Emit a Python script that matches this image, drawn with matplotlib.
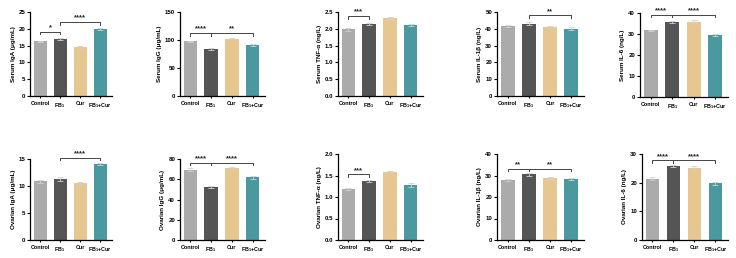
import numpy as np
import matplotlib.pyplot as plt

plt.rcParams['font.family'] = ['Liberation Sans', 'DejaVu Sans']
plt.rcParams['font.weight'] = 'bold'
plt.rcParams['mathtext.fontset'] = 'custom'
plt.rcParams['mathtext.rm'] = 'Liberation Sans:bold'
plt.rcParams['mathtext.default'] = 'rm'

groups = ['Control', 'FB$_1$', 'Cur', 'FB$_1$+Cur']
colors = ['#ababab', '#555555', '#e6c78f', '#4a98a0']

# values per panel (Control, FB1, Cur, FB1+Cur) and their error bars
serum_iga = [16.3, 17.1, 14.6, 19.8]
serum_iga_err = [0.2, 0.3, 0.2, 0.3]
serum_igg = [97.5, 84.0, 102.5, 91.0]
serum_igg_err = [1.0, 1.5, 1.0, 1.5]
serum_tnf = [1.98, 2.14, 2.32, 2.11]
serum_tnf_err = [0.04, 0.03, 0.02, 0.04]
serum_il1b = [41.5, 43.0, 41.0, 40.0]
serum_il1b_err = [0.5, 0.8, 0.4, 1.0]
serum_il6 = [31.7, 35.6, 35.9, 29.4]
serum_il6_err = [0.4, 0.5, 0.6, 0.4]
ovar_iga = [10.9, 11.3, 10.6, 14.0]
ovar_iga_err = [0.3, 0.3, 0.2, 0.2]
ovar_igg = [69.5, 52.8, 71.5, 62.0]
ovar_igg_err = [1.5, 1.0, 1.0, 1.5]
ovar_tnf = [1.19, 1.37, 1.58, 1.28]
ovar_tnf_err = [0.03, 0.03, 0.02, 0.04]
ovar_il1b = [28.0, 30.6, 28.8, 28.4]
ovar_il1b_err = [0.5, 0.7, 0.4, 0.5]
ovar_il6 = [21.4, 25.8, 25.2, 19.8]
ovar_il6_err = [0.6, 0.3, 0.5, 0.5]

# panel: (values, errors, ylabel, ymax, ystep, tick fmt, brackets, axes box in px)
# brackets: (i, j, height, stars)
panels = [
    (serum_iga, serum_iga_err, 'Serum IgA (μg/mL)', 25, 5, '{:.0f}',
     [(0, 1, 19.1, '*'), (1, 3, 22.0, '****')], (30, 12, 112, 96)),
    (serum_igg, serum_igg_err, 'Serum IgG (μg/mL)', 150, 50, '{:.0f}',
     [(0, 1, 112.5, '****'), (1, 3, 112.5, '**')], (180, 12, 265, 96)),
    (serum_tnf, serum_tnf_err, 'Serum TNF-α (ng/L)', 2.5, 0.5, '{:.1f}',
     [(0, 1, 2.38, '***')], (338, 12, 423, 96)),
    (serum_il1b, serum_il1b_err, 'Serum IL-1β (ng/L)', 50, 10, '{:.0f}',
     [(1, 3, 48.0, '**')], (497, 12, 584, 96)),
    (serum_il6, serum_il6_err, 'Serum IL-6 (ng/L)', 40, 10, '{:.0f}',
     [(0, 1, 39.2, '****'), (1, 3, 39.2, '****')], (640, 13, 728, 97)),
    (ovar_iga, ovar_iga_err, 'Ovarian IgA (μg/mL)', 15, 5, '{:.0f}',
     [(1, 3, 15.2, '****')], (30, 159, 112, 240)),
    (ovar_igg, ovar_igg_err, 'Ovarian IgG (μg/mL)', 80, 20, '{:.0f}',
     [(0, 1, 76.5, '****'), (1, 3, 76.5, '****')], (180, 159, 265, 240)),
    (ovar_tnf, ovar_tnf_err, 'Ovarian TNF-α (ng/L)', 2.0, 0.5, '{:.1f}',
     [(0, 1, 1.53, '***')], (338, 154, 423, 240)),
    (ovar_il1b, ovar_il1b_err, 'Ovarian IL-1β (ng/L)', 40, 10, '{:.0f}',
     [(0, 1, 33.2, '**'), (1, 3, 33.2, '**')], (497, 154, 584, 240)),
    (ovar_il6, ovar_il6_err, 'Ovarian IL-6 (ng/L)', 30, 10, '{:.0f}',
     [(0, 1, 27.8, '****'), (1, 3, 27.8, '****')], (642, 154, 728, 240)),
]

W, H = 736, 258
fig = plt.figure(figsize=(W / 100, H / 100), dpi=100)

x = np.arange(len(groups))
for vals, errs, ylabel, ymax, ystep, fmt, brackets, (x0, y0, x1, y1) in panels:
    ax = fig.add_axes([x0 / W, 1 - y1 / H, (x1 - x0) / W, (y1 - y0) / H])
    ax.bar(x, vals, width=0.65, color=colors, zorder=2)
    ax.errorbar(x, vals, yerr=errs, fmt='none', ecolor='#d0d0d0',
                elinewidth=0.6, capsize=2, capthick=0.6, zorder=3)
    ax.set_xlim(-0.5, 3.6)
    ax.set_ylim(0, ymax)
    ticks = np.arange(0, ymax + ystep / 2, ystep)
    ax.set_yticks(ticks)
    ax.set_yticklabels([fmt.format(t) for t in ticks])
    ax.set_xticks(x)
    ax.set_xticklabels(groups)
    ax.tick_params(axis='y', labelsize=4.4, width=0.8, length=2, pad=1.5)
    ax.tick_params(axis='x', labelsize=3.9, width=0.8, length=1.5, pad=2)
    ax.set_ylabel(ylabel, fontsize=4.5, fontweight='bold', labelpad=2)
    for s in ['top', 'right']:
        ax.spines[s].set_visible(False)
    for s in ['left', 'bottom']:
        ax.spines[s].set_linewidth(0.9)
    drop = ymax * 0.03
    for i, j, h, stars in brackets:
        ax.plot([i, i, j, j], [h - drop, h, h, h - drop], color='#444444',
                lw=0.7, clip_on=False)
        ax.text((i + j) / 2, h + ymax * 0.005, stars, ha='center', va='bottom',
                fontsize=5.5, fontweight='bold', color='#222222')

fig.savefig('out.png', dpi=100)
